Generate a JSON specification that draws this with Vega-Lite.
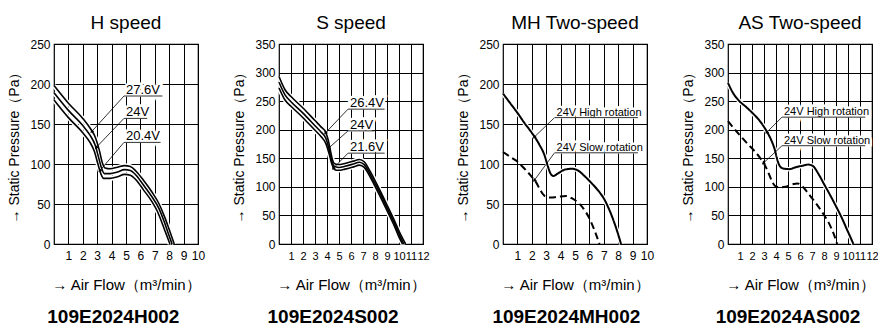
{
  "$schema": "https://vega.github.io/schema/vega-lite/v6.json",
  "padding": {"left": 7, "top": 13, "right": 0, "bottom": 0},
  "config": {
    "font": "Liberation Sans, Arial, sans-serif",
    "view": {"stroke": "black", "strokeWidth": 1.2},
    "axis": {"grid": true, "gridColor": "black", "gridOpacity": 1, "gridWidth": 1, "ticks": false, "domain": false, "labelColor": "black", "labelFontSize": 12, "labelFlush": false, "labelOverlap": false, "labelPadding": 4, "titleColor": "black", "titleFontSize": 14, "titleFontWeight": "normal"},
    "axisX": {"labelPadding": 6, "titlePadding": 16, "titleFontSize": 15},
    "axisY": {"titlePadding": 8},
    "title": {"fontSize": 19, "fontWeight": "normal", "color": "black", "offset": 5, "anchor": "middle"},
    "concat": {"spacing": 26}
  },
  "datasets": {
    "H": [
      {"s": "27.6V", "x": 0, "p": 198}, {"s": "27.6V", "x": 1, "p": 176}, {"s": "27.6V", "x": 2, "p": 157}, {"s": "27.6V", "x": 2.5, "p": 145}, {"s": "27.6V", "x": 2.9, "p": 132}, {"s": "27.6V", "x": 3.15, "p": 117}, {"s": "27.6V", "x": 3.35, "p": 102}, {"s": "27.6V", "x": 3.55, "p": 95}, {"s": "27.6V", "x": 3.9, "p": 94}, {"s": "27.6V", "x": 4.4, "p": 96}, {"s": "27.6V", "x": 4.9, "p": 98}, {"s": "27.6V", "x": 5.3, "p": 97}, {"s": "27.6V", "x": 5.7, "p": 91}, {"s": "27.6V", "x": 6.2, "p": 80}, {"s": "27.6V", "x": 6.8, "p": 65}, {"s": "27.6V", "x": 7.3, "p": 50}, {"s": "27.6V", "x": 7.7, "p": 33}, {"s": "27.6V", "x": 8.0, "p": 18}, {"s": "27.6V", "x": 8.35, "p": 0},
      {"s": "24V", "x": 0, "p": 189}, {"s": "24V", "x": 1, "p": 167}, {"s": "24V", "x": 2, "p": 148}, {"s": "24V", "x": 2.5, "p": 136}, {"s": "24V", "x": 2.85, "p": 124}, {"s": "24V", "x": 3.1, "p": 108}, {"s": "24V", "x": 3.3, "p": 95}, {"s": "24V", "x": 3.5, "p": 88}, {"s": "24V", "x": 3.9, "p": 88}, {"s": "24V", "x": 4.4, "p": 90}, {"s": "24V", "x": 4.9, "p": 93}, {"s": "24V", "x": 5.3, "p": 92}, {"s": "24V", "x": 5.7, "p": 86}, {"s": "24V", "x": 6.2, "p": 74}, {"s": "24V", "x": 6.8, "p": 59}, {"s": "24V", "x": 7.3, "p": 44}, {"s": "24V", "x": 7.65, "p": 28}, {"s": "24V", "x": 7.9, "p": 15}, {"s": "24V", "x": 8.2, "p": 0},
      {"s": "20.4V", "x": 0, "p": 180}, {"s": "20.4V", "x": 1, "p": 158}, {"s": "20.4V", "x": 2, "p": 139}, {"s": "20.4V", "x": 2.5, "p": 127}, {"s": "20.4V", "x": 2.8, "p": 116}, {"s": "20.4V", "x": 3.05, "p": 100}, {"s": "20.4V", "x": 3.25, "p": 88}, {"s": "20.4V", "x": 3.45, "p": 82}, {"s": "20.4V", "x": 3.9, "p": 82}, {"s": "20.4V", "x": 4.4, "p": 84}, {"s": "20.4V", "x": 4.9, "p": 87}, {"s": "20.4V", "x": 5.3, "p": 86}, {"s": "20.4V", "x": 5.7, "p": 80}, {"s": "20.4V", "x": 6.2, "p": 68}, {"s": "20.4V", "x": 6.8, "p": 53}, {"s": "20.4V", "x": 7.2, "p": 40}, {"s": "20.4V", "x": 7.55, "p": 24}, {"s": "20.4V", "x": 7.8, "p": 12}, {"s": "20.4V", "x": 8.05, "p": 0}
    ],
    "Hn": [
      {"t": "27.6V", "x1": 4.86, "x2": 7.53, "y": 185, "ax": 2.64, "ay": 141},
      {"t": "24V", "x1": 4.86, "x2": 6.47, "y": 157, "ax": 2.95, "ay": 121},
      {"t": "20.4V", "x1": 4.86, "x2": 7.4, "y": 127, "ax": 3.2, "ay": 92}
    ],
    "S": [
      {"s": "26.4V", "x": 0, "p": 293}, {"s": "26.4V", "x": 0.5, "p": 270}, {"s": "26.4V", "x": 1, "p": 258}, {"s": "26.4V", "x": 2, "p": 238}, {"s": "26.4V", "x": 3, "p": 216}, {"s": "26.4V", "x": 3.5, "p": 205}, {"s": "26.4V", "x": 3.9, "p": 195}, {"s": "26.4V", "x": 4.1, "p": 182}, {"s": "26.4V", "x": 4.3, "p": 162}, {"s": "26.4V", "x": 4.45, "p": 148}, {"s": "26.4V", "x": 4.6, "p": 141}, {"s": "26.4V", "x": 4.9, "p": 139}, {"s": "26.4V", "x": 5.5, "p": 141}, {"s": "26.4V", "x": 6.2, "p": 145}, {"s": "26.4V", "x": 6.7, "p": 148}, {"s": "26.4V", "x": 7.1, "p": 144}, {"s": "26.4V", "x": 7.6, "p": 127}, {"s": "26.4V", "x": 8.1, "p": 107}, {"s": "26.4V", "x": 8.6, "p": 86}, {"s": "26.4V", "x": 9.1, "p": 64}, {"s": "26.4V", "x": 9.6, "p": 42}, {"s": "26.4V", "x": 10.1, "p": 18}, {"s": "26.4V", "x": 10.55, "p": 0},
      {"s": "24V", "x": 0, "p": 283}, {"s": "24V", "x": 0.5, "p": 261}, {"s": "24V", "x": 1, "p": 249}, {"s": "24V", "x": 2, "p": 229}, {"s": "24V", "x": 3, "p": 207}, {"s": "24V", "x": 3.5, "p": 196}, {"s": "24V", "x": 3.9, "p": 185}, {"s": "24V", "x": 4.15, "p": 168}, {"s": "24V", "x": 4.35, "p": 150}, {"s": "24V", "x": 4.5, "p": 139}, {"s": "24V", "x": 4.7, "p": 135}, {"s": "24V", "x": 5.0, "p": 134}, {"s": "24V", "x": 5.5, "p": 136}, {"s": "24V", "x": 6.2, "p": 140}, {"s": "24V", "x": 6.7, "p": 143}, {"s": "24V", "x": 7.1, "p": 139}, {"s": "24V", "x": 7.6, "p": 122}, {"s": "24V", "x": 8.1, "p": 102}, {"s": "24V", "x": 8.6, "p": 81}, {"s": "24V", "x": 9.1, "p": 59}, {"s": "24V", "x": 9.6, "p": 37}, {"s": "24V", "x": 10.05, "p": 15}, {"s": "24V", "x": 10.4, "p": 0},
      {"s": "21.6V", "x": 0, "p": 273}, {"s": "21.6V", "x": 0.5, "p": 252}, {"s": "21.6V", "x": 1, "p": 241}, {"s": "21.6V", "x": 2, "p": 221}, {"s": "21.6V", "x": 3, "p": 199}, {"s": "21.6V", "x": 3.5, "p": 188}, {"s": "21.6V", "x": 3.9, "p": 176}, {"s": "21.6V", "x": 4.2, "p": 156}, {"s": "21.6V", "x": 4.4, "p": 140}, {"s": "21.6V", "x": 4.6, "p": 131}, {"s": "21.6V", "x": 4.8, "p": 129}, {"s": "21.6V", "x": 5.1, "p": 129}, {"s": "21.6V", "x": 5.5, "p": 131}, {"s": "21.6V", "x": 6.2, "p": 135}, {"s": "21.6V", "x": 6.7, "p": 138}, {"s": "21.6V", "x": 7.1, "p": 134}, {"s": "21.6V", "x": 7.6, "p": 117}, {"s": "21.6V", "x": 8.1, "p": 97}, {"s": "21.6V", "x": 8.6, "p": 76}, {"s": "21.6V", "x": 9.1, "p": 54}, {"s": "21.6V", "x": 9.6, "p": 32}, {"s": "21.6V", "x": 10.0, "p": 12}, {"s": "21.6V", "x": 10.3, "p": 0}
    ],
    "Sn": [
      {"t": "26.4V", "x1": 5.75, "x2": 8.8, "y": 236, "ax": 3.9, "ay": 195},
      {"t": "24V", "x1": 5.75, "x2": 7.97, "y": 198, "ax": 4.15, "ay": 168},
      {"t": "21.6V", "x1": 5.75, "x2": 8.8, "y": 159, "ax": 4.55, "ay": 133}
    ],
    "MH": [
      {"s": "High", "x": 0, "p": 188}, {"s": "High", "x": 0.5, "p": 176}, {"s": "High", "x": 1, "p": 164}, {"s": "High", "x": 1.5, "p": 151}, {"s": "High", "x": 2, "p": 139}, {"s": "High", "x": 2.5, "p": 125}, {"s": "High", "x": 2.9, "p": 110}, {"s": "High", "x": 3.1, "p": 98}, {"s": "High", "x": 3.3, "p": 88}, {"s": "High", "x": 3.5, "p": 85}, {"s": "High", "x": 3.8, "p": 88}, {"s": "High", "x": 4.3, "p": 93}, {"s": "High", "x": 4.8, "p": 94}, {"s": "High", "x": 5.2, "p": 92}, {"s": "High", "x": 5.6, "p": 86}, {"s": "High", "x": 6.1, "p": 77}, {"s": "High", "x": 6.6, "p": 67}, {"s": "High", "x": 7.0, "p": 57}, {"s": "High", "x": 7.4, "p": 42}, {"s": "High", "x": 7.8, "p": 23}, {"s": "High", "x": 8.2, "p": 0},
      {"s": "Slow", "x": 0, "p": 115}, {"s": "Slow", "x": 0.5, "p": 109}, {"s": "Slow", "x": 1, "p": 103}, {"s": "Slow", "x": 1.5, "p": 94}, {"s": "Slow", "x": 2, "p": 84}, {"s": "Slow", "x": 2.3, "p": 77}, {"s": "Slow", "x": 2.6, "p": 67}, {"s": "Slow", "x": 2.9, "p": 60}, {"s": "Slow", "x": 3.3, "p": 58}, {"s": "Slow", "x": 3.8, "p": 59}, {"s": "Slow", "x": 4.4, "p": 60}, {"s": "Slow", "x": 4.8, "p": 57}, {"s": "Slow", "x": 5.2, "p": 52}, {"s": "Slow", "x": 5.6, "p": 44}, {"s": "Slow", "x": 6.0, "p": 32}, {"s": "Slow", "x": 6.4, "p": 15}, {"s": "Slow", "x": 6.7, "p": 0}
    ],
    "MHn": [
      {"t": "24V High rotation", "x1": 3.58, "x2": 9.37, "y": 158, "ax": 2.19, "ay": 134},
      {"t": "24V Slow rotation", "x1": 3.58, "x2": 9.37, "y": 114, "ax": 2.19, "ay": 80}
    ],
    "AS": [
      {"s": "High", "x": 0, "p": 282}, {"s": "High", "x": 0.4, "p": 265}, {"s": "High", "x": 0.9, "p": 251}, {"s": "High", "x": 1.5, "p": 240}, {"s": "High", "x": 2.1, "p": 228}, {"s": "High", "x": 2.7, "p": 214}, {"s": "High", "x": 3.2, "p": 198}, {"s": "High", "x": 3.6, "p": 182}, {"s": "High", "x": 3.9, "p": 165}, {"s": "High", "x": 4.1, "p": 148}, {"s": "High", "x": 4.3, "p": 137}, {"s": "High", "x": 4.6, "p": 132}, {"s": "High", "x": 5.1, "p": 131}, {"s": "High", "x": 5.6, "p": 134}, {"s": "High", "x": 6.2, "p": 137}, {"s": "High", "x": 6.7, "p": 139}, {"s": "High", "x": 7.1, "p": 136}, {"s": "High", "x": 7.5, "p": 124}, {"s": "High", "x": 8.0, "p": 105}, {"s": "High", "x": 8.5, "p": 86}, {"s": "High", "x": 9.0, "p": 66}, {"s": "High", "x": 9.5, "p": 45}, {"s": "High", "x": 9.9, "p": 26}, {"s": "High", "x": 10.2, "p": 12}, {"s": "High", "x": 10.45, "p": 0},
      {"s": "Slow", "x": 0, "p": 215}, {"s": "Slow", "x": 0.5, "p": 202}, {"s": "Slow", "x": 1, "p": 190}, {"s": "Slow", "x": 1.6, "p": 176}, {"s": "Slow", "x": 2.2, "p": 163}, {"s": "Slow", "x": 2.7, "p": 150}, {"s": "Slow", "x": 3.0, "p": 141}, {"s": "Slow", "x": 3.3, "p": 128}, {"s": "Slow", "x": 3.6, "p": 113}, {"s": "Slow", "x": 3.9, "p": 102}, {"s": "Slow", "x": 4.3, "p": 99}, {"s": "Slow", "x": 4.8, "p": 100}, {"s": "Slow", "x": 5.3, "p": 104}, {"s": "Slow", "x": 5.8, "p": 106}, {"s": "Slow", "x": 6.2, "p": 101}, {"s": "Slow", "x": 6.7, "p": 88}, {"s": "Slow", "x": 7.3, "p": 72}, {"s": "Slow", "x": 7.9, "p": 54}, {"s": "Slow", "x": 8.4, "p": 37}, {"s": "Slow", "x": 8.8, "p": 18}, {"s": "Slow", "x": 9.1, "p": 0}
    ],
    "ASn": [
      {"t": "24V High rotation", "x1": 4.5, "x2": 11.44, "y": 222, "ax": 3.25, "ay": 196},
      {"t": "24V Slow rotation", "x1": 4.5, "x2": 11.44, "y": 172, "ax": 2.97, "ay": 142}
    ]
  },
  "hconcat": [
    {
      "title": {"text": "109E2024H002", "orient": "bottom", "fontWeight": "bold", "fontSize": 19, "offset": 15, "dx": 7},
      "vconcat": [{
        "title": {"text": "H speed"},
        "width": 144, "height": 200,
        "encoding": {
          "x": {"type": "quantitative", "scale": {"domain": [0, 10], "nice": false, "zero": false}, "axis": {"values": [1,2,3,4,5,6,7,8,9,10], "title": "→ Air Flow（m³/min）"}},
          "y": {"type": "quantitative", "scale": {"domain": [0, 250], "nice": false}, "axis": {"values": [0,50,100,150,200,250], "title": "→ Static Pressure（Pa）"}}
        },
        "layer": [
          {"data": {"name": "H"}, "mark": {"type": "line", "stroke": "white", "strokeWidth": 4.5, "interpolate": "monotone"}, "encoding": {"x": {"field": "x", "type": "quantitative"}, "y": {"field": "p", "type": "quantitative"}, "detail": {"field": "s"}}},
          {"data": {"name": "H"}, "mark": {"type": "line", "stroke": "black", "strokeWidth": 1.6, "interpolate": "monotone"}, "encoding": {"x": {"field": "x", "type": "quantitative"}, "y": {"field": "p", "type": "quantitative"}, "detail": {"field": "s"}}},
          {"data": {"name": "Hn"}, "mark": {"type": "rule", "stroke": "black", "strokeWidth": 0.8}, "encoding": {"x": {"field": "x1", "type": "quantitative"}, "y": {"field": "y", "type": "quantitative"}, "x2": {"field": "ax"}, "y2": {"field": "ay"}}},
          {"data": {"name": "Hn"}, "mark": {"type": "text", "align": "left", "baseline": "alphabetic", "dx": 2, "dy": -2, "fontSize": 13, "fill": "white", "stroke": "white", "strokeWidth": 5}, "encoding": {"x": {"field": "x1", "type": "quantitative"}, "y": {"field": "y", "type": "quantitative"}, "text": {"field": "t"}}},
          {"data": {"name": "Hn"}, "mark": {"type": "text", "align": "left", "baseline": "alphabetic", "dx": 2, "dy": -2, "fontSize": 13, "fill": "black"}, "encoding": {"x": {"field": "x1", "type": "quantitative"}, "y": {"field": "y", "type": "quantitative"}, "text": {"field": "t"}}},
          {"data": {"name": "Hn"}, "mark": {"type": "rule", "stroke": "#333333", "strokeWidth": 1}, "encoding": {"x": {"field": "x1", "type": "quantitative"}, "x2": {"field": "x2"}, "y": {"field": "y", "type": "quantitative"}}},
          {"data": {"name": "Hn"}, "mark": {"type": "point", "shape": "triangle", "filled": true, "color": "black", "opacity": 1, "size": 16, "angle": 222}, "encoding": {"x": {"field": "ax", "type": "quantitative"}, "y": {"field": "ay", "type": "quantitative"}}}
        ]
      }]
    },
    {
      "title": {"text": "109E2024S002", "orient": "bottom", "fontWeight": "bold", "fontSize": 19, "offset": 15, "dx": 2},
      "vconcat": [{
        "title": {"text": "S speed"},
        "width": 144, "height": 200,
        "encoding": {
          "x": {"type": "quantitative", "scale": {"domain": [0, 12], "nice": false, "zero": false}, "axis": {"values": [1,2,3,4,5,6,7,8,9,10,11,12], "labelFontSize": 11, "title": "→ Air Flow（m³/min）"}},
          "y": {"type": "quantitative", "scale": {"domain": [0, 350], "nice": false}, "axis": {"values": [0,50,100,150,200,250,300,350], "title": "→ Static Pressure（Pa）"}}
        },
        "layer": [
          {"data": {"name": "S"}, "mark": {"type": "line", "stroke": "white", "strokeWidth": 4.5, "interpolate": "monotone"}, "encoding": {"x": {"field": "x", "type": "quantitative"}, "y": {"field": "p", "type": "quantitative"}, "detail": {"field": "s"}}},
          {"data": {"name": "S"}, "mark": {"type": "line", "stroke": "black", "strokeWidth": 1.6, "interpolate": "monotone"}, "encoding": {"x": {"field": "x", "type": "quantitative"}, "y": {"field": "p", "type": "quantitative"}, "detail": {"field": "s"}}},
          {"data": {"name": "Sn"}, "mark": {"type": "rule", "stroke": "black", "strokeWidth": 0.8}, "encoding": {"x": {"field": "x1", "type": "quantitative"}, "y": {"field": "y", "type": "quantitative"}, "x2": {"field": "ax"}, "y2": {"field": "ay"}}},
          {"data": {"name": "Sn"}, "mark": {"type": "text", "align": "left", "baseline": "alphabetic", "dx": 2, "dy": -2, "fontSize": 13, "fill": "white", "stroke": "white", "strokeWidth": 5}, "encoding": {"x": {"field": "x1", "type": "quantitative"}, "y": {"field": "y", "type": "quantitative"}, "text": {"field": "t"}}},
          {"data": {"name": "Sn"}, "mark": {"type": "text", "align": "left", "baseline": "alphabetic", "dx": 2, "dy": -2, "fontSize": 13, "fill": "black"}, "encoding": {"x": {"field": "x1", "type": "quantitative"}, "y": {"field": "y", "type": "quantitative"}, "text": {"field": "t"}}},
          {"data": {"name": "Sn"}, "mark": {"type": "rule", "stroke": "#333333", "strokeWidth": 1}, "encoding": {"x": {"field": "x1", "type": "quantitative"}, "x2": {"field": "x2"}, "y": {"field": "y", "type": "quantitative"}}},
          {"data": {"name": "Sn"}, "mark": {"type": "point", "shape": "triangle", "filled": true, "color": "black", "opacity": 1, "size": 16, "angle": 224}, "encoding": {"x": {"field": "ax", "type": "quantitative"}, "y": {"field": "ay", "type": "quantitative"}}}
        ]
      }]
    },
    {
      "title": {"text": "109E2024MH002", "orient": "bottom", "fontWeight": "bold", "fontSize": 19, "offset": 15, "dx": 11},
      "vconcat": [{
        "title": {"text": "MH Two-speed"},
        "width": 144, "height": 200,
        "encoding": {
          "x": {"type": "quantitative", "scale": {"domain": [0, 10], "nice": false, "zero": false}, "axis": {"values": [1,2,3,4,5,6,7,8,9,10], "title": "→ Air Flow（m³/min）"}},
          "y": {"type": "quantitative", "scale": {"domain": [0, 250], "nice": false}, "axis": {"values": [0,50,100,150,200,250], "title": "→ Static Pressure（Pa）"}}
        },
        "layer": [
          {"data": {"name": "MH"}, "transform": [{"filter": {"field": "s", "equal": "High"}}], "mark": {"type": "line", "stroke": "white", "strokeWidth": 4.5, "interpolate": "monotone"}, "encoding": {"x": {"field": "x", "type": "quantitative"}, "y": {"field": "p", "type": "quantitative"}}},
          {"data": {"name": "MH"}, "mark": {"type": "line", "stroke": "black", "strokeWidth": 2, "interpolate": "monotone"}, "encoding": {"x": {"field": "x", "type": "quantitative"}, "y": {"field": "p", "type": "quantitative"}, "strokeDash": {"field": "s", "type": "nominal", "scale": {"domain": ["High", "Slow"], "range": [[1, 0], [7, 4]]}, "legend": null}}},
          {"data": {"name": "MHn"}, "mark": {"type": "rule", "stroke": "black", "strokeWidth": 0.8}, "encoding": {"x": {"field": "x1", "type": "quantitative"}, "y": {"field": "y", "type": "quantitative"}, "x2": {"field": "ax"}, "y2": {"field": "ay"}}},
          {"data": {"name": "MHn"}, "mark": {"type": "text", "align": "left", "baseline": "alphabetic", "dx": 2, "dy": -2, "fontSize": 11, "fill": "white", "stroke": "white", "strokeWidth": 5}, "encoding": {"x": {"field": "x1", "type": "quantitative"}, "y": {"field": "y", "type": "quantitative"}, "text": {"field": "t"}}},
          {"data": {"name": "MHn"}, "mark": {"type": "text", "align": "left", "baseline": "alphabetic", "dx": 2, "dy": -2, "fontSize": 11, "fill": "black"}, "encoding": {"x": {"field": "x1", "type": "quantitative"}, "y": {"field": "y", "type": "quantitative"}, "text": {"field": "t"}}},
          {"data": {"name": "MHn"}, "mark": {"type": "rule", "stroke": "#333333", "strokeWidth": 1}, "encoding": {"x": {"field": "x1", "type": "quantitative"}, "x2": {"field": "x2"}, "y": {"field": "y", "type": "quantitative"}}},
          {"data": {"name": "MHn"}, "mark": {"type": "point", "shape": "triangle", "filled": true, "color": "black", "opacity": 1, "size": 16, "angle": 222}, "encoding": {"x": {"field": "ax", "type": "quantitative"}, "y": {"field": "ay", "type": "quantitative"}}}
        ]
      }]
    },
    {
      "title": {"text": "109E2024AS002", "orient": "bottom", "fontWeight": "bold", "fontSize": 19, "offset": 15, "dx": 8},
      "vconcat": [{
        "title": {"text": "AS Two-speed"},
        "width": 144, "height": 200,
        "encoding": {
          "x": {"type": "quantitative", "scale": {"domain": [0, 12], "nice": false, "zero": false}, "axis": {"values": [1,2,3,4,5,6,7,8,9,10,11,12], "labelFontSize": 11, "title": "→ Air Flow（m³/min）"}},
          "y": {"type": "quantitative", "scale": {"domain": [0, 350], "nice": false}, "axis": {"values": [0,50,100,150,200,250,300,350], "title": "→ Static Pressure（Pa）"}}
        },
        "layer": [
          {"data": {"name": "AS"}, "transform": [{"filter": {"field": "s", "equal": "High"}}], "mark": {"type": "line", "stroke": "white", "strokeWidth": 4.5, "interpolate": "monotone"}, "encoding": {"x": {"field": "x", "type": "quantitative"}, "y": {"field": "p", "type": "quantitative"}}},
          {"data": {"name": "AS"}, "mark": {"type": "line", "stroke": "black", "strokeWidth": 2, "interpolate": "monotone"}, "encoding": {"x": {"field": "x", "type": "quantitative"}, "y": {"field": "p", "type": "quantitative"}, "strokeDash": {"field": "s", "type": "nominal", "scale": {"domain": ["High", "Slow"], "range": [[1, 0], [7, 4]]}, "legend": null}}},
          {"data": {"name": "ASn"}, "mark": {"type": "rule", "stroke": "black", "strokeWidth": 0.8}, "encoding": {"x": {"field": "x1", "type": "quantitative"}, "y": {"field": "y", "type": "quantitative"}, "x2": {"field": "ax"}, "y2": {"field": "ay"}}},
          {"data": {"name": "ASn"}, "mark": {"type": "text", "align": "left", "baseline": "alphabetic", "dx": 2, "dy": -2, "fontSize": 11, "fill": "white", "stroke": "white", "strokeWidth": 5}, "encoding": {"x": {"field": "x1", "type": "quantitative"}, "y": {"field": "y", "type": "quantitative"}, "text": {"field": "t"}}},
          {"data": {"name": "ASn"}, "mark": {"type": "text", "align": "left", "baseline": "alphabetic", "dx": 2, "dy": -2, "fontSize": 11, "fill": "black"}, "encoding": {"x": {"field": "x1", "type": "quantitative"}, "y": {"field": "y", "type": "quantitative"}, "text": {"field": "t"}}},
          {"data": {"name": "ASn"}, "mark": {"type": "rule", "stroke": "#333333", "strokeWidth": 1}, "encoding": {"x": {"field": "x1", "type": "quantitative"}, "x2": {"field": "x2"}, "y": {"field": "y", "type": "quantitative"}}},
          {"data": {"name": "ASn"}, "mark": {"type": "point", "shape": "triangle", "filled": true, "color": "black", "opacity": 1, "size": 16, "angle": 228}, "encoding": {"x": {"field": "ax", "type": "quantitative"}, "y": {"field": "ay", "type": "quantitative"}}}
        ]
      }]
    }
  ]
}
